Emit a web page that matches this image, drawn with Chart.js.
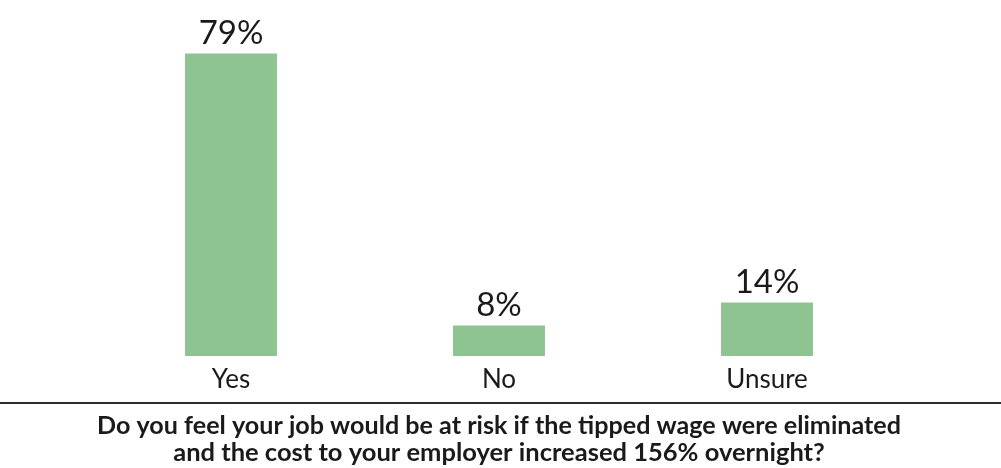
<!DOCTYPE html>
<html>
<head>
<meta charset="utf-8">
<script src="https://cdn.jsdelivr.net/npm/chart.js@4/dist/chart.umd.min.js"></script>
<style>
  html, body { margin: 0; padding: 0; background: #ffffff; }
  #wrap { width: 1001px; height: 468px; }
</style>
</head>
<body>
<div id="wrap"><canvas id="riskChart" width="1001" height="468"></canvas></div>
<script>
// Survey answers
const answers = ['Yes', 'No', 'Unsure'];
const shares = [79, 8, 14];
const questionLines = [
    'Do you feel your job would be at risk if the tipped wage were eliminated',
    'and the cost to your employer increased 156% overnight?'
];

const barGreen = '#8dc491';
const textDark = '#1a1a1a';

const titleSize = 25.5;
const titleLineHeight = 1.06;
const titlePadBottom = 1.5;

// percent labels above each bar
const valueLabels = {
    id: 'valueLabels',
    afterDatasetsDraw(chart) {
        const ctx = chart.ctx;
        const meta = chart.getDatasetMeta(0);
        ctx.save();
        ctx.font = '33px Lato';
        ctx.fillStyle = textDark;
        ctx.textAlign = 'center';
        ctx.textBaseline = 'bottom';
        meta.data.forEach((bar, i) => {
            ctx.fillText(shares[i] + '%', bar.x, bar.y - 4);
        });
        ctx.restore();
    }
};

// rule between the chart and the question
const ruleLine = {
    id: 'ruleLine',
    afterDraw(chart) {
        const ctx = chart.ctx;
        ctx.save();
        ctx.strokeStyle = '#2b2b2b';
        ctx.lineWidth = 2;
        ctx.beginPath();
        ctx.moveTo(0, 403);
        ctx.lineTo(chart.width, 403);
        ctx.stroke();
        ctx.restore();
    }
};

new Chart(document.getElementById('riskChart'), {
    type: 'bar',
    data: {
        labels: answers,
        datasets: [{
            data: shares,
            backgroundColor: barGreen,
            borderWidth: 0,
            barPercentage: 0.343,
            categoryPercentage: 1
        }]
    },
    options: {
        responsive: false,
        animation: false,
        layout: { padding: { left: 97, right: 100, top: 0, bottom: 0 } },
        plugins: {
            legend: { display: false },
            tooltip: { enabled: false },
            title: {
                display: true,
                position: 'bottom',
                text: questionLines,
                color: textDark,
                font: { family: 'Lato', size: titleSize, weight: 'bold', lineHeight: titleLineHeight },
                padding: { top: 0, bottom: titlePadBottom }
            }
        },
        scales: {
            y: {
                display: false,
                min: 0,
                max: 93
            },
            x: {
                grid: { display: false, drawTicks: false },
                border: { display: false },
                ticks: {
                    color: textDark,
                    font: { family: 'Lato', size: 26 },
                    padding: 8
                },
                afterFit(axis) {
                    axis.height = 468 - 356 - (2 * titleSize * titleLineHeight + titlePadBottom);
                }
            }
        }
    },
    plugins: [valueLabels, ruleLine]
});
</script>
</body>
</html>
